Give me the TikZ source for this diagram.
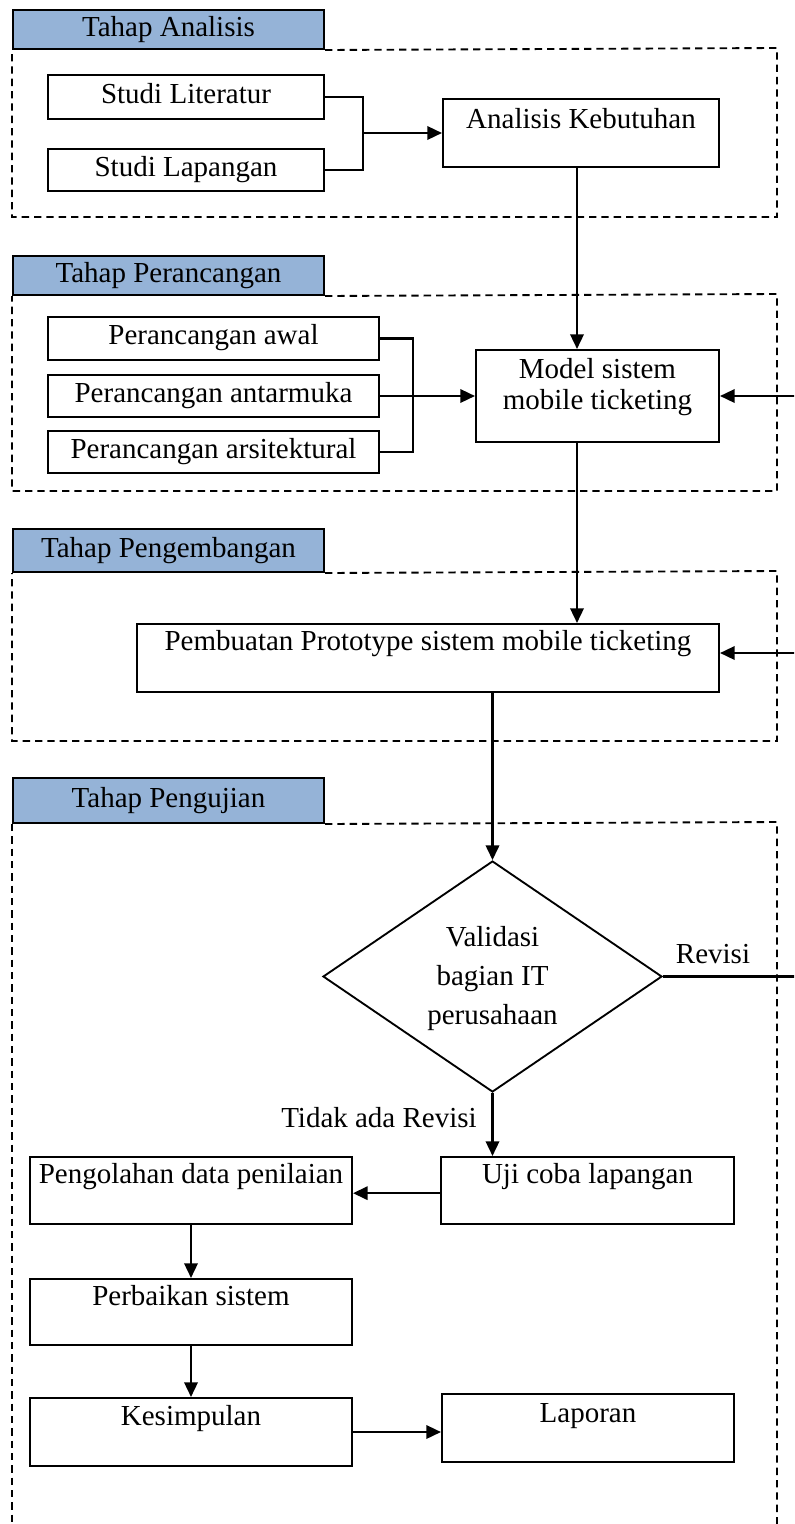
\documentclass[tikz,border=0pt]{standalone}
\usepackage{fontspec}
\setmainfont{Liberation Serif}
\usetikzlibrary{arrows.meta,shapes.geometric}
\definecolor{tabblue}{HTML}{95B3D7}
% a plain rectangle given by its top-left corner, width and height (in px units)
\newcommand\mkbox[5]{\node[stagebox, minimum width=#4*0.75pt, minimum height=#5*0.75pt] (#1) at (#2,#3) {};}
\newcommand\mktab[5]{\node[stagetab, minimum width=#4*0.75pt, minimum height=#5*0.75pt] (#1) at (#2,#3) {};}
\begin{document}
\begin{tikzpicture}[x=0.75pt,y=-0.75pt,
  stagebox/.style={draw, line width=1.5pt, inner sep=0pt, anchor=north west, fill=white},
  stagetab/.style={draw, line width=1.5pt, inner sep=0pt, anchor=north west, fill=tabblue},
  txt/.style={inner sep=0pt, font=\fontsize{21.75pt}{25pt}\selectfont},
  stageframe/.style={dash pattern=on 5.5pt off 3.75pt, line width=1.4pt},
  link/.style={line width=1.8pt},
  arr/.style={link, -{Triangle[length=11pt,width=10pt]}},
]
\useasboundingbox (0,0) rectangle (794,1524);
\clip (0,0) rectangle (794,1524);

% ---------- stage headers ----------
\mktab{t1}{12}{9}{311}{39}
\mktab{t2}{12}{255}{311}{39}
\mktab{t3}{12}{528}{311}{43}
\mktab{t4}{12}{777}{311}{45}
\node[txt, anchor=base] (t1t) at ([yshift=-5.25pt]t1.center) {Tahap Analisis};
\node[txt, anchor=base] (t2t) at ([yshift=-5.25pt]t2.center) {Tahap Perancangan};
\node[txt, anchor=base] (t3t) at ([yshift=-5.25pt]t3.center) {Tahap Pengembangan};
\node[txt, anchor=base] (t4t) at ([yshift=-5.25pt]t4.center) {Tahap Pengujian};

% ---------- dashed stage frames ----------
\draw[stageframe] (t1.south east) -- (777,48) -- (777,217) -- (12,217) -- (t1.south west);
\draw[stageframe] (t2.south east) -- (777,294) -- (777,491) -- (12,491) -- (t2.south west);
\draw[stageframe] (t3.south east) -- (777,571) -- (777,741) -- (12,741) -- (t3.south west);
\draw[stageframe] (t4.south east) -- (777,822) -- (777,1530);
\draw[stageframe] (t4.south west) -- (12,1530);

% ---------- boxes ----------
\mkbox{sl}{47}{74}{276}{44}
\mkbox{sp}{47}{148}{276}{42}
\mkbox{ak}{442}{98}{276}{68}
\mkbox{pa}{47}{316}{331}{43}
\mkbox{pan}{47}{374}{331}{42}
\mkbox{par}{47}{430}{331}{42}
\mkbox{ms}{475}{349}{243}{92}
\mkbox{pb}{136}{623}{582}{68}
\mkbox{uji}{440}{1156}{293}{67}
\mkbox{po}{29}{1156}{322}{67}
\mkbox{pk}{29}{1278}{322}{66}
\mkbox{ks}{29}{1397}{322}{68}
\mkbox{lp}{441}{1393}{292}{68}
\node[draw, diamond, line width=1.4pt, fill=white, inner sep=0pt,
      minimum width=339*0.75pt, minimum height=231*0.75pt] (dv) at (492.5,976.5) {};

% ---------- box texts ----------
\node[txt, anchor=base] (slt) at ([yshift=-4.5pt]sl.center) {Studi Literatur};
\node[txt, anchor=base] (spt) at ([yshift=-4.5pt]sp.center) {Studi Lapangan};
\node[txt, anchor=base] (akt) at ([yshift=-22.5pt]ak.north) {Analisis Kebutuhan};
\node[txt, anchor=base] (pat) at ([yshift=-4.5pt]pa.center) {Perancangan awal};
\node[txt, anchor=base] (pant) at ([yshift=-4.5pt]pan.center) {Perancangan antarmuka};
\node[txt, anchor=base] (part) at ([yshift=-4.5pt]par.center) {Perancangan arsitektural};
\node[txt, align=center, font=\fontsize{21.75pt}{23.25pt}\selectfont] (mst)
  at ([yshift=6.75pt]ms.center) {Model sistem\\mobile ticketing};
\node[txt, anchor=base] (pbt) at ([yshift=-20.25pt]pb.north) {Pembuatan Prototype sistem mobile ticketing};
\node[txt, align=center, font=\fontsize{21.75pt}{29.25pt}\selectfont] (dvt)
  at ([yshift=-1.5pt]dv.center) {Validasi\\bagian IT\\perusahaan};
\node[txt, anchor=base] (ujit) at ([yshift=-20.25pt]uji.north) {Uji coba lapangan};
\node[txt, anchor=base] (pot) at ([yshift=-20.25pt]po.north) {Pengolahan data penilaian};
\node[txt, anchor=base] (pkt) at ([yshift=-20.25pt]pk.north) {Perbaikan sistem};
\node[txt, anchor=base] (kst) at ([yshift=-21pt]ks.north) {Kesimpulan};
\node[txt, anchor=base] (lpt) at ([yshift=-21.75pt]lp.north) {Laporan};

% ---------- edge labels ----------
\node[txt, anchor=base] (rev) at (713,963) {Revisi};
\node[txt, anchor=base east] (norev) at (477,1127) {Tidak ada Revisi};

% ---------- junctions and guide coordinates ----------
\coordinate (j1) at (363,133);
\coordinate (j2) at (413,397);
\coordinate (colA) at (577,0);
\coordinate (fbx) at (800,0);

% ---------- connectors ----------
\draw[link] (sl.east) -| (j1);
\draw[link] (sp.east) -| (j1);
\draw[arr] (j1) -- (ak.west |- j1);

\draw[link] (pa.east) -| (j2);
\draw[link] (par.east) -| (j2);
\draw[arr] (pan.east) -- (ms.west);

\draw[arr] (ak.south -| colA) -- (ms.north -| colA);
\draw[arr] (ms.south -| colA) -- (pb.north -| colA);
\draw[arr] (pb.south -| dv.north) -- (dv.north);

% revision loop back to the design and development stages
\draw[link] (dv.east) -- (dv.east -| fbx) -- (ms.east -| fbx);
\draw[arr] (ms.east -| fbx) -- (ms.east);
\draw[arr] ([yshift=3.75pt]pb.east -| fbx) -- ([yshift=3.75pt]pb.east);

\draw[arr] (dv.south) -- (uji.north -| dv.south);
\draw[arr] ([yshift=-2pt]uji.west) -- ([yshift=-2pt]po.east);
\draw[arr] (po.south) -- (pk.north);
\draw[arr] (pk.south) -- (ks.north);
\draw[arr] (ks.east) -- (lp.west |- ks.east);
\end{tikzpicture}
\end{document}
